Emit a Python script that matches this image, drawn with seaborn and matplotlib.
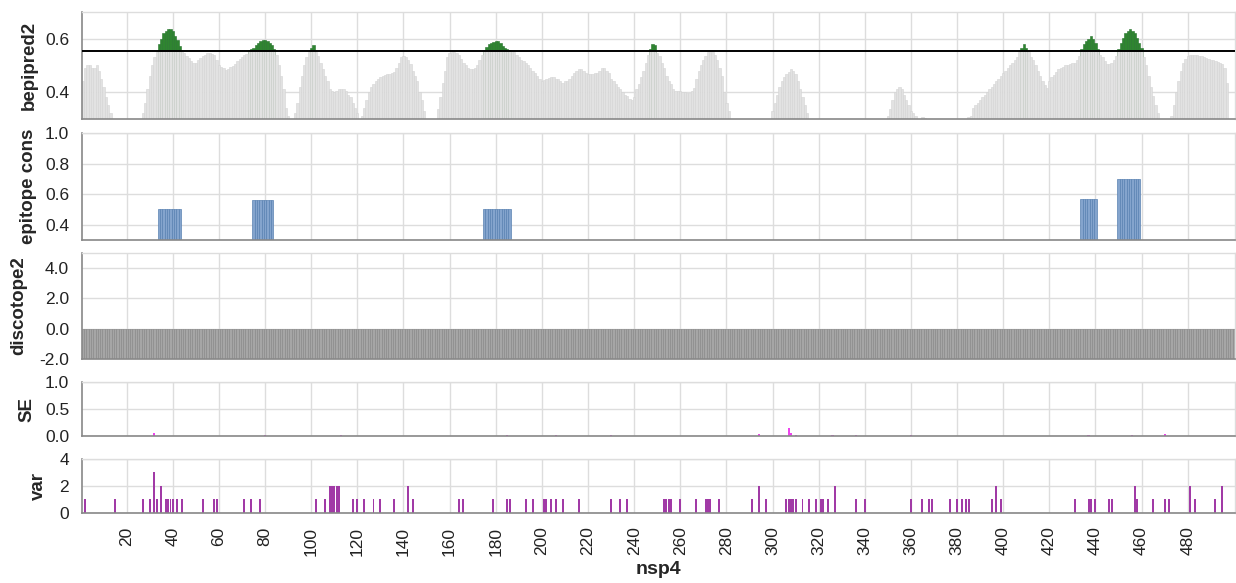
import numpy as np
import pandas as pd
import matplotlib
matplotlib.use("Agg")
import matplotlib.pyplot as plt
from matplotlib.ticker import FormatStrFormatter
import seaborn as sns

# residue positions of nsp4
positions = np.arange(1, 501)

# bepipred2 score per residue (values under 0.3 fall outside the view)
bepipred2 = [
    0.44, 0.49, 0.50, 0.50, 0.49, 0.49, 0.50, 0.48, 0.45, 0.42,
    0.38, 0.35, 0.32, 0.30, 0.28, 0.26, 0.25, 0.24, 0.24, 0.23,
    0.23, 0.23, 0.24, 0.25, 0.27, 0.29, 0.32, 0.36, 0.41, 0.46,
    0.50, 0.53, 0.55, 0.58, 0.60, 0.62, 0.63, 0.637, 0.635, 0.63,
    0.61, 0.595, 0.573, 0.555, 0.545, 0.535, 0.527, 0.515, 0.507, 0.51,
    0.52, 0.528, 0.535, 0.54, 0.545, 0.545, 0.543, 0.54, 0.52, 0.50,
    0.495, 0.488, 0.482, 0.485, 0.492, 0.497, 0.505, 0.515, 0.525, 0.53,
    0.537, 0.542, 0.556, 0.56, 0.566, 0.575, 0.585, 0.59, 0.595, 0.595,
    0.59, 0.585, 0.575, 0.56, 0.54, 0.50, 0.46, 0.41, 0.34, 0.31,
    0.29, 0.28, 0.32, 0.36, 0.42, 0.46, 0.50, 0.53, 0.55, 0.565,
    0.575, 0.55, 0.535, 0.51, 0.485, 0.46, 0.44, 0.41, 0.405, 0.40,
    0.405, 0.41, 0.41, 0.41, 0.405, 0.39, 0.38, 0.36, 0.34, 0.32,
    0.30, 0.31, 0.34, 0.37, 0.40, 0.42, 0.43, 0.44, 0.45, 0.455,
    0.46, 0.462, 0.466, 0.468, 0.47, 0.475, 0.49, 0.51, 0.53, 0.535,
    0.53, 0.52, 0.505, 0.48, 0.46, 0.44, 0.40, 0.37, 0.33, 0.30,
    0.28, 0.27, 0.28, 0.30, 0.335, 0.38, 0.435, 0.48, 0.53, 0.545,
    0.548, 0.548, 0.545, 0.54, 0.525, 0.51, 0.50, 0.49, 0.487, 0.485,
    0.49, 0.50, 0.52, 0.54, 0.556, 0.57, 0.578, 0.582, 0.588, 0.59,
    0.59, 0.585, 0.573, 0.566, 0.562, 0.556, 0.554, 0.548, 0.54, 0.53,
    0.52, 0.515, 0.51, 0.50, 0.49, 0.48, 0.47, 0.46, 0.45, 0.44,
    0.445, 0.45, 0.452, 0.454, 0.454, 0.45, 0.447, 0.44, 0.435, 0.44,
    0.44, 0.45, 0.46, 0.47, 0.48, 0.485, 0.485, 0.48, 0.47, 0.468,
    0.466, 0.466, 0.47, 0.47, 0.48, 0.49, 0.49, 0.48, 0.47, 0.45,
    0.44, 0.43, 0.42, 0.41, 0.40, 0.39, 0.385, 0.375, 0.37, 0.38,
    0.41, 0.43, 0.454, 0.48, 0.51, 0.54, 0.56, 0.58, 0.575, 0.545,
    0.535, 0.51, 0.49, 0.46, 0.44, 0.43, 0.41, 0.405, 0.404, 0.402,
    0.40, 0.398, 0.396, 0.395, 0.405, 0.416, 0.45, 0.48, 0.50, 0.52,
    0.535, 0.548, 0.55, 0.548, 0.54, 0.52, 0.49, 0.46, 0.40, 0.36,
    0.33, 0.30, 0.28, 0.26, 0.25, 0.24, 0.23, 0.23, 0.22, 0.22,
    0.22, 0.22, 0.23, 0.24, 0.25, 0.26, 0.27, 0.28, 0.30, 0.33,
    0.36, 0.39, 0.42, 0.44, 0.455, 0.466, 0.475, 0.485, 0.48, 0.466,
    0.44, 0.41, 0.38, 0.35, 0.32, 0.30, 0.28, 0.27, 0.26, 0.25,
    0.24, 0.23, 0.22, 0.22, 0.21, 0.21, 0.21, 0.21, 0.22, 0.22,
    0.22, 0.23, 0.23, 0.24, 0.24, 0.25, 0.25, 0.26, 0.26, 0.27,
    0.27, 0.27, 0.28, 0.28, 0.28, 0.29, 0.29, 0.29, 0.30, 0.31,
    0.335, 0.37, 0.40, 0.41, 0.42, 0.41, 0.39, 0.37, 0.35, 0.33,
    0.32, 0.31, 0.30, 0.30, 0.305, 0.303, 0.29, 0.28, 0.27, 0.26,
    0.25, 0.24, 0.24, 0.24, 0.25, 0.26, 0.27, 0.28, 0.29, 0.29,
    0.29, 0.295, 0.30, 0.30, 0.305, 0.31, 0.34, 0.35, 0.36, 0.37,
    0.38, 0.39, 0.40, 0.41, 0.42, 0.43, 0.44, 0.45, 0.46, 0.47,
    0.48, 0.49, 0.50, 0.51, 0.52, 0.53, 0.548, 0.565, 0.58, 0.566,
    0.55, 0.53, 0.52, 0.50, 0.48, 0.46, 0.44, 0.425, 0.416, 0.44,
    0.455, 0.465, 0.475, 0.485, 0.49, 0.495, 0.50, 0.502, 0.504, 0.507,
    0.51, 0.52, 0.535, 0.56, 0.58, 0.59, 0.60, 0.61, 0.60, 0.585,
    0.56, 0.54, 0.53, 0.515, 0.504, 0.505, 0.51, 0.52, 0.535, 0.56,
    0.585, 0.604, 0.62, 0.63, 0.637, 0.63, 0.62, 0.604, 0.585, 0.566,
    0.53, 0.50, 0.46, 0.42, 0.385, 0.35, 0.32, 0.29, 0.27, 0.26,
    0.27, 0.29, 0.31, 0.35, 0.40, 0.44, 0.48, 0.51, 0.525, 0.535,
    0.54, 0.54, 0.54, 0.538, 0.535, 0.533, 0.53, 0.528, 0.524, 0.52,
    0.518, 0.516, 0.514, 0.51, 0.505, 0.49, 0.435, 0.30, 0.28, 0.27,
]
bepipred_threshold = 0.5553

# conserved epitopes: residue ranges and conservation score
epitope_start = [34, 75, 175, 434, 450]
epitope_end = [43, 83, 186, 440, 459]
epitope_cons = [0.50, 0.56, 0.50, 0.57, 0.70]

# discotope2 score (everything sits at or below the -2 floor)
discotope2 = [-2.0] * 500

# SE per residue (non-zero entries only)
se_pos = [32, 80, 113, 185, 206, 230, 294, 307, 308, 310, 326, 336, 360, 437, 456, 470]
se_val = [0.06, 0.01, 0.01, 0.02, 0.02, 0.01, 0.03, 0.14, 0.05, 0.02, 0.02, 0.01, 0.01, 0.01, 0.02, 0.03]

# number of variants per residue (non-zero entries only)
var_pos = [2, 15, 27, 30, 32, 33, 35, 37, 38, 39, 40, 42, 44, 53, 58, 59, 71, 74, 78,
           102, 106, 108, 109, 110, 111, 112, 118, 120, 123, 127, 130, 136, 142, 144,
           164, 166, 179, 185, 186, 193, 196, 201, 202, 204, 206, 209, 216, 230, 234,
           237, 253, 254, 255, 256, 260, 267, 271, 272, 273, 277, 291, 294, 297,
           306, 307, 308, 309, 310, 313, 316, 319, 321, 322, 324, 327, 336, 340,
           360, 365, 368, 369, 377, 380, 382, 384, 385, 395, 397, 399, 431, 437,
           438, 440, 446, 447, 457, 458, 465, 470, 472, 481, 483, 492, 495]
var_val = [1, 1, 1, 1, 3, 1, 2, 1, 1, 1, 1, 1, 1, 1, 1, 1, 1, 1, 1,
           1, 1, 2, 2, 2, 2, 2, 1, 1, 1, 1, 1, 1, 2, 1,
           1, 1, 1, 1, 1, 1, 1, 1, 1, 1, 1, 1, 1, 1, 1,
           1, 1, 1, 1, 1, 1, 1, 1, 1, 1, 1, 1, 2, 1,
           1, 1, 1, 1, 1, 1, 1, 1, 1, 1, 1, 2, 1, 1,
           1, 1, 1, 1, 1, 1, 1, 1, 1, 1, 2, 1, 1, 1,
           1, 1, 1, 1, 2, 1, 1, 1, 1, 2, 1, 1, 2]

x_ticks = list(range(20, 500, 20))

# build per-residue tables
bep = np.array(bepipred2)
epi = np.full(500, np.nan)
for s, e, v in zip(epitope_start, epitope_end, epitope_cons):
    epi[s - 1:e] = v
se = np.zeros(500)
se[np.array(se_pos) - 1] = se_val
var = np.zeros(500)
var[np.array(var_pos) - 1] = var_val

df = pd.DataFrame({
    "pos": positions,
    "bepipred2": bep,
    "below": np.minimum(bep, bepipred_threshold),
    "epitope": epi,
    "discotope2": discotope2,
    "SE": se,
    "var": var,
})
df_above = df[df["bepipred2"] > bepipred_threshold]
df_epi = df.dropna(subset=["epitope"])

sns.set_style("white")
plt.rcParams["font.family"] = ["Liberation Sans", "DejaVu Sans"]
plt.rcParams["axes.unicode_minus"] = False

fig = plt.figure(figsize=(12.36, 5.83), dpi=100)
W, H = 1236, 583
left, right = 81.7, 1235
panels = [(12, 118.5), (133, 240), (252.7, 359), (382.3, 436), (459, 512.7)]
axes = []
for top, bot in panels:
    ax = fig.add_axes([left / W, 1 - bot / H, (right - left) / W, (bot - top) / H])
    axes.append(ax)

bar_kw = dict(x="pos", native_scale=True, orient="x", errorbar=None, saturation=1)

# bepipred2 with threshold highlighting
ax = axes[0]
sns.barplot(data=df_above, y="bepipred2", ax=ax, color="#2f8530", width=1.0,
            edgecolor="#23722a", linewidth=0.4, **bar_kw)
sns.barplot(data=df, y="below", ax=ax, color="#e2e2e2", width=1.0,
            edgecolor="#d4d4d4", linewidth=0.4, **bar_kw)
ax.axhline(bepipred_threshold, color="black", lw=1.4, zorder=5)
ax.set_ylim(0.3, 0.7)
ax.set_yticks([0.4, 0.6])
ax.set_ylabel("bepipred2")

# epitope conservation
ax = axes[1]
sns.barplot(data=df_epi, y="epitope", ax=ax, color="#84a4cd", width=1.0,
            edgecolor="#5a82b2", linewidth=0.5, **bar_kw)
ax.set_ylim(0.3, 1.0)
ax.set_yticks([0.4, 0.6, 0.8, 1.0])
ax.set_ylabel("epitope cons")

# discotope2
ax = axes[2]
sns.barplot(data=df, y="discotope2", ax=ax, color="#a6a6a6", width=1.0,
            edgecolor="#8c8c8c", linewidth=0.5, **bar_kw)
ax.set_ylim(-2, 5)
ax.set_yticks([-2, 0, 2, 4])
ax.yaxis.set_major_formatter(FormatStrFormatter("%.1f"))
ax.set_ylabel("discotope2")

# SE
ax = axes[3]
sns.barplot(data=df, y="SE", ax=ax, color="#ee44ee", width=0.9, linewidth=0, **bar_kw)
ax.set_ylim(0, 1)
ax.set_yticks([0, 0.5, 1.0])
ax.yaxis.set_major_formatter(FormatStrFormatter("%.1f"))
ax.set_ylabel("SE")

# variants
ax = axes[4]
sns.barplot(data=df, y="var", ax=ax, color="#a13aa6", width=0.85, linewidth=0, **bar_kw)
ax.set_ylim(0, 4)
ax.set_yticks([0, 2, 4])
ax.set_ylabel("var")

label_x = {"bepipred2": 38, "epitope cons": 37, "discotope2": 27, "SE": 35, "var": 47}
for i, ax in enumerate(axes):
    ax.set_xlim(0.5, 500.5)
    ax.set_xticks(x_ticks)
    ax.set_axisbelow(True)
    ax.grid(True, color="#dddddd", lw=1)
    for side in ["top", "right"]:
        ax.spines[side].set_color("#dddddd")
        ax.spines[side].set_linewidth(1)
    for side in ["left", "bottom"]:
        ax.spines[side].set_color("#888888")
        ax.spines[side].set_linewidth(1.2)
    ax.tick_params(axis="y", length=6, width=1, color="#888888", pad=3,
                   labelsize=12.5, labelcolor="#222222")
    ax.set_xlabel("")
    lab = ax.get_ylabel()
    ax.set_ylabel(lab, fontsize=13.5, fontweight="bold")
    ax.yaxis.set_label_coords((label_x[lab] - left) / (right - left), 0.5)
    if i < 4:
        ax.tick_params(axis="x", length=0, labelbottom=False)

ax = axes[4]
ax.set_xticklabels([str(t) for t in x_ticks], rotation=90)
ax.tick_params(axis="x", length=7, width=1, color="#888888", pad=3,
               labelsize=12.5, labelcolor="#222222")
ax.set_xlabel("nsp4", fontsize=14, fontweight="bold", labelpad=4)

fig.savefig("out.png", dpi=100)
